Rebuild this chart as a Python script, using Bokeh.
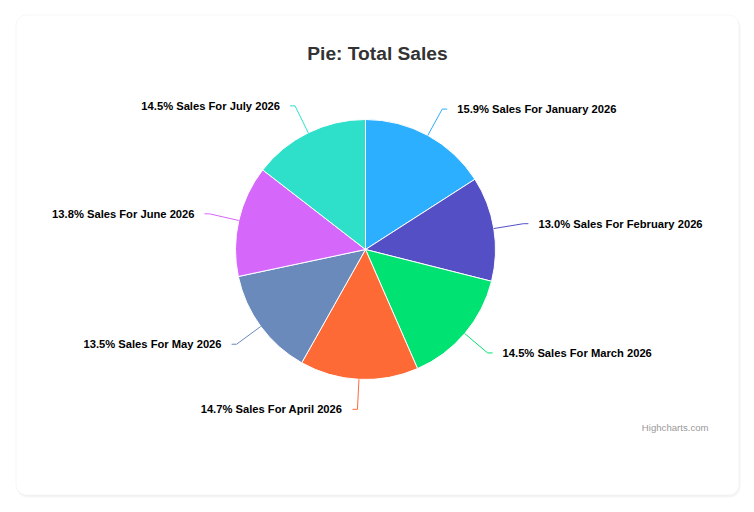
import numpy as np
from bokeh.plotting import figure
from bokeh.models import ColumnDataSource, Range1d, BoxAnnotation
from bokeh.core.properties import value
from bokeh.embed import file_html
from bokeh.resources import INLINE

# --- data ---
months = ["January", "February", "March", "April", "May", "June", "July"]
sales_share = [15.9, 13.0, 14.5, 14.7, 13.5, 13.8, 14.5]
colors = ["#2caffe", "#544fc5", "#00e272", "#fe6a35", "#6b8abc", "#d568fb", "#2ee0ca"]
year = "2026"

# --- layout (page pixels, y measured from top of the window) ---
W, H = 746, 504
cx, cy_page, r = 365, 249, 130
label_dist = 30
FONT = value("Liberation Sans")


def py(y_page):
    # page y (down) -> data y (up)
    return 512 - y_page


p = figure(width=W, height=H, output_backend="svg", toolbar_location=None,
           x_range=Range1d(0, W), y_range=Range1d(512 - H, 512),
           min_border=0, background_fill_color="white", border_fill_color="white")
p.axis.visible = False
p.grid.visible = False
p.outline_line_color = None

# card with rounded corners and a faint shadow
p.add_layout(BoxAnnotation(left=16, right=740, top=py(16), bottom=py(497),
                           fill_color="#000000", fill_alpha=0.04, line_color=None,
                           border_radius=11, level="underlay"))
p.add_layout(BoxAnnotation(left=15.5, right=738.5, top=py(14.5), bottom=py(494.5),
                           fill_color="white", fill_alpha=1, line_color="#e3e3e3",
                           line_width=1, border_radius=10, level="underlay"))

# --- pie geometry from the values ---
vals = np.array(sales_share, dtype=float)
frac = vals / vals.sum()
cum_end = np.cumsum(frac)
cum_start = cum_end - frac
# Highcharts starts at 12 o'clock and goes clockwise
start = np.pi / 2 - cum_start * 2 * np.pi
end = np.pi / 2 - cum_end * 2 * np.pi
mid_hc = (cum_start + frac / 2) * 2 * np.pi  # clockwise from top

src = ColumnDataSource(dict(start=start, end=end, color=colors))
p.wedge(x=cx, y=py(cy_page), radius=r, start_angle="start", end_angle="end",
        direction="clock", fill_color="color", line_color="white", line_width=1,
        source=src)

# --- data labels with connectors ---
pct = frac * 100
lx, ly, align = [], [], []
for i, m in enumerate(months):
    s, c = np.sin(mid_hc[i]), np.cos(mid_hc[i])
    ex, ey = cx + r * s, cy_page - r * c
    bx, by = cx + (r + label_dist) * s, cy_page - (r + label_dist) * c
    side = 1 if s >= 0 else -1
    endx = bx + 5 * side
    p.line([ex, bx, endx], [py(ey), py(by), py(by)], line_color=colors[i], line_width=1)
    lx.append(endx + 10 * side)
    ly.append(py(by))
    align.append("left" if side > 0 else "right")

texts = [f"{v:.1f}% Sales For {m} {year}" for v, m in zip(pct, months)]
lab = ColumnDataSource(dict(x=lx, y=ly, text=texts, align=align))
p.text(x="x", y="y", text="text", text_align="align", text_baseline="middle",
       text_font=FONT, text_font_style="bold", text_font_size="11.2px",
       text_color="#000000", source=lab)

# title and credits
p.text(x=[377], y=[py(53)], text=["Pie: Total Sales"], text_align="center",
       text_baseline="middle", text_font=FONT, text_font_style="bold",
       text_font_size="19.2px", text_color="#333333")
p.text(x=[708], y=[py(427)], text=["Highcharts.com"], text_align="right",
       text_baseline="middle", text_font=FONT, text_font_size="9.6px",
       text_color="#999999")

open("out.html", "w").write(file_html(p, INLINE))
